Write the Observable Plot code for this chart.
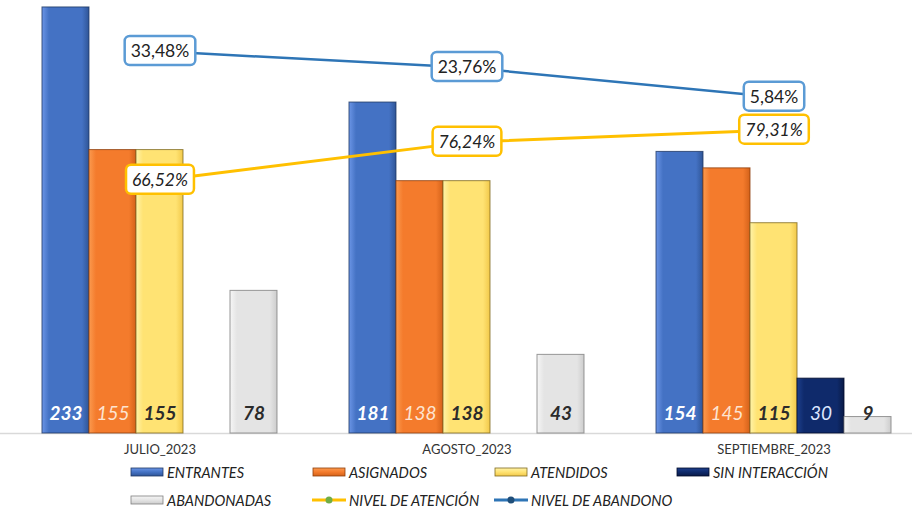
<!DOCTYPE html>
<html>
<head>
<meta charset="utf-8">
<script src="https://cdn.jsdelivr.net/npm/d3@7"></script>
<script src="https://cdn.jsdelivr.net/npm/@observablehq/plot@0.6"></script>
<style>
  html, body { margin: 0; padding: 0; background: #fff; }
  #chart { width: 912px; position: relative; font-family: Lato, "Open Sans", sans-serif; }
  #legend { position: relative; height: 52px; font-family: Lato, "Open Sans", sans-serif; font-style: italic; font-size: 14.5px; color: #222; }
  .li { position: absolute; display: flex; align-items: center; height: 24px; }
  .li svg { margin-right: 3px; }
</style>
</head>
<body>
<div id="chart"></div>
<div id="legend"></div>
<script>
// ---- data ----
const months = ["JULIO_2023", "AGOSTO_2023", "SEPTIEMBRE_2023"];
const series = ["ENTRANTES", "ASIGNADOS", "ATENDIDOS", "SIN INTERACCIÓN", "ABANDONADAS"];
const entrantes = [233, 181, 154];
const asignados = [155, 138, 145];
const atendidos = [155, 138, 115];
const sinInteraccion = [0, 0, 30];
const abandonadas = [78, 43, 9];
const nivelAtencion = [66.52, 76.24, 79.31];
const nivelAbandono = [33.48, 23.76, 5.84];
const lineSeries = ["NIVEL DE ATENCIÓN", "NIVEL DE ABANDONO"];

// ---- styles ----
const pal = [
  {light: "#6b95e6", base: "#4472c4", dark: "#2f5597", edge: "#1f3864"},
  {light: "#fb9a4f", base: "#f47b2c", dark: "#d4621a", edge: "#8f3f0c"},
  {light: "#fff3a8", base: "#ffe373", dark: "#f2c94a", edge: "#7f6a22"},
  {light: "#1d3f8c", base: "#0f2a6b", dark: "#091a47", edge: "#000a2a"},
  {light: "#f6f6f6", base: "#e4e4e4", dark: "#cdcdcd", edge: "#7f7f7f"}
];
const labFill = ["#ffffff", "#fde4d0", "#2b2b2b", "#dce6ff", "#2b2b2b"];
const labBold = [true, false, true, false, true];

const values = [entrantes, asignados, atendidos, sinInteraccion, abandonadas];
const rows = [];
months.forEach((m, mi) => series.forEach((s, si) => rows.push({month: m, mi, series: s, si, value: values[si][mi]})));
const bw = 0.1531; // bar width in month units
const x1 = d => d.mi + (d.si - 2.5) * bw;
const xm = d => d.mi + (d.si - 2) * bw;
const shown = rows.filter(d => d.value > 0);

// secondary axes for the two rates (mapped into bar units)
const attY = p => p * 2.14 - 3.8;
const abY = p => 178.7 + 0.9045 * p;
const att = nivelAtencion.map((p, mi) => ({mi, p}));
const ab = nivelAbandono.map((p, mi) => ({mi, p}));
const fmt = p => p.toFixed(2).replace(".", ",") + "%";

const valueText = bold => Plot.text(shown.filter(d => labBold[d.si] === bold), {
  x: xm, y: 0, dy: -20, text: d => String(d.value),
  fill: d => labFill[d.si], fontWeight: bold ? "bold" : "normal",
  fontStyle: "italic", fontSize: 19
});

const plot = Plot.plot({
  width: 912,
  height: 458,
  marginLeft: 0, marginRight: 0, marginTop: 0, marginBottom: 25,
  x: {type: "linear", domain: [-0.5195, 2.4511], axis: null},
  y: {domain: [0, 236.8], axis: null},
  style: {fontFamily: "Lato, 'Open Sans', sans-serif", background: "#fff"},
  marks: [
    Plot.ruleY([0], {stroke: "#d9d9d9", strokeWidth: 1.5}),
    Plot.rectY(shown, {
      x1: x1, x2: d => x1(d) + bw, y1: 0, y2: "value",
      fill: d => `url(#grad${d.si})`, stroke: d => pal[d.si].edge, strokeWidth: 1, strokeOpacity: 0.8
    }),
    Plot.rectY(shown, {
      x1: d => x1(d) + 0.012, x2: d => x1(d) + bw - 0.012, y1: "value", y2: "value",
      dy: 2, stroke: d => pal[d.si].light, strokeWidth: 3, strokeOpacity: 0.9
    }),
    valueText(true),
    valueText(false),
    Plot.line(att, {x: "mi", y: d => attY(d.p), stroke: "#ffc000", strokeWidth: 3}),
    Plot.line(ab, {x: "mi", y: d => abY(d.p), stroke: "#2e75b6", strokeWidth: 2.5}),
    Plot.text(att, {x: "mi", y: d => attY(d.p), text: d => fmt(d.p), fontSize: 17.5, fontStyle: "italic", fill: "#222", className: "boxAt"}),
    Plot.text(ab, {x: "mi", y: d => abY(d.p), text: d => fmt(d.p), fontSize: 17.5, fill: "#222", className: "boxAb"}),
    Plot.axisX({ticks: [0, 1, 2], tickFormat: i => months[i], tickSize: 0, tickPadding: 11, fontSize: 13, color: "#333", label: null})
  ]
});
document.getElementById("chart").appendChild(plot);

// gradient defs
const svg = d3.select(plot);
const defs = svg.insert("defs", ":first-child");
pal.forEach((c, i) => {
  const g = defs.append("linearGradient").attr("id", `grad${i}`).attr("x1", "0").attr("x2", "1").attr("y1", "0").attr("y2", "0");
  g.append("stop").attr("offset", "0").attr("stop-color", c.light);
  g.append("stop").attr("offset", "0.15").attr("stop-color", c.base);
  g.append("stop").attr("offset", "0.85").attr("stop-color", c.base);
  g.append("stop").attr("offset", "1").attr("stop-color", c.dark);
});

// rounded boxes behind percentage labels
function boxes(cls, stroke) {
  svg.selectAll(`g.${cls} text`).each(function () {
    const b = this.getBBox();
    const padX = 6, padY = 5;
    d3.select(this.parentNode).insert("rect", () => this)
      .attr("x", b.x - padX).attr("y", b.y - padY + 1)
      .attr("width", b.width + 2 * padX).attr("height", b.height + 2 * padY - 2)
      .attr("rx", 5).attr("fill", "#fff").attr("stroke", stroke).attr("stroke-width", 2.5)
      .attr("transform", this.getAttribute("transform"));
  });
}
boxes("boxAt", "#ffc000");
boxes("boxAb", "#5b9bd5");

// legend
const legend = d3.select("#legend");
const cols = [130, 312, 494, 676];
const items = [
  {t: series[0], k: "bar", i: 0, c: 0, r: 0},
  {t: series[1], k: "bar", i: 1, c: 1, r: 0},
  {t: series[2], k: "bar", i: 2, c: 2, r: 0},
  {t: series[3], k: "bar", i: 3, c: 3, r: 0},
  {t: series[4], k: "bar", i: 4, c: 0, r: 1},
  {t: lineSeries[0], k: "line", stroke: "#ffc000", dot: "#70ad47", c: 1, r: 1},
  {t: lineSeries[1], k: "line", stroke: "#2e75b6", dot: "#1f4e79", c: 2, r: 1}
];
items.forEach(it => {
  const d = legend.append("div").attr("class", "li").style("left", cols[it.c] + "px").style("top", (it.r * 28 + 2) + "px");
  const s = d.append("svg").attr("width", 34).attr("height", 12);
  if (it.k === "bar") {
    const p = pal[it.i];
    const gid = "lg" + it.i;
    const g = s.append("defs").append("linearGradient").attr("id", gid).attr("x1", 0).attr("x2", 0).attr("y1", 0).attr("y2", 1);
    g.append("stop").attr("offset", 0).attr("stop-color", p.light);
    g.append("stop").attr("offset", 0.5).attr("stop-color", p.base);
    g.append("stop").attr("offset", 1).attr("stop-color", p.dark);
    s.append("rect").attr("x", 1).attr("y", 2).attr("width", 32).attr("height", 8).attr("fill", `url(#${gid})`).attr("stroke", p.edge).attr("stroke-width", 0.8);
  } else {
    s.append("line").attr("x1", 0).attr("x2", 34).attr("y1", 6).attr("y2", 6).attr("stroke", it.stroke).attr("stroke-width", 3);
    s.append("circle").attr("cx", 17).attr("cy", 6).attr("r", 3.5).attr("fill", it.dot);
  }
  d.append("span").text(it.t);
});
</script>
</body>
</html>
